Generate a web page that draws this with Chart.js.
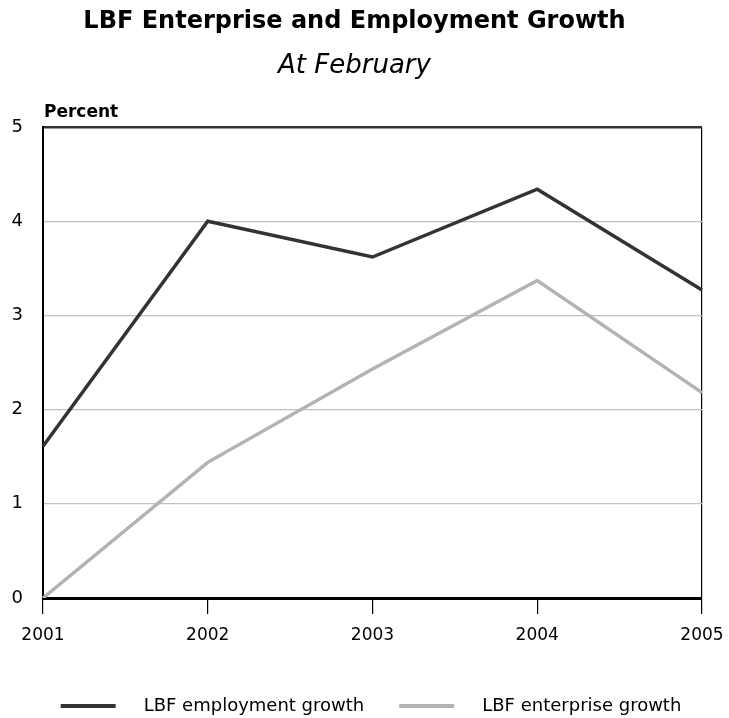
<!DOCTYPE html>
<html>
<head>
<meta charset="utf-8">
<style>
  body { margin: 0; background: #fff; }
</style>
<script src="https://cdn.jsdelivr.net/npm/chart.js@4/dist/chart.umd.min.js"></script>
</head>
<body>
<canvas id="growthChart" width="729" height="718"></canvas>
<script>
const years = ['2001', '2002', '2003', '2004', '2005'];
const employmentGrowth = [1.61, 4.0, 3.62, 4.34, 3.27];
const enterpriseGrowth = [0.0, 1.44, 2.43, 3.37, 2.18];
const yTicks = [0, 1, 2, 3, 4, 5];

const darkLine = '#333333';
const lightLine = '#b3b3b3';

Chart.defaults.font.family = "'DejaVu Sans', sans-serif";
Chart.defaults.color = '#000';

// legend swatch: a short line with some space after it
const makeSwatch = (colour) => {
    const c = document.createElement('canvas');
    c.width = 107;
    c.height = 4;
    const g = c.getContext('2d');
    g.fillStyle = colour;
    g.fillRect(33, 0, 55, 4);
    return c;
};

const percentLabel = {
    id: 'percentLabel',
    afterDraw(chart) {
        const g = chart.ctx;
        g.save();
        g.font = "bold 17px 'DejaVu Sans'";
        g.fillStyle = '#000';
        g.textAlign = 'left';
        g.textBaseline = 'alphabetic';
        g.fillText('Percent', chart.chartArea.left + 1, 116.5);
        g.restore();
    }
};

const ctx = document.getElementById('growthChart').getContext('2d');
let growthChart = new Chart(ctx, {
    type: 'line',
    data: {
        labels: years,
        datasets: [
            {
                label: 'LBF employment growth',
                data: employmentGrowth,
                borderColor: darkLine,
                backgroundColor: darkLine,
                borderWidth: 3.5,
                pointRadius: 0,
                tension: 0,
                pointStyle: makeSwatch(darkLine)
            },
            {
                label: 'LBF enterprise growth',
                data: enterpriseGrowth,
                borderColor: lightLine,
                backgroundColor: lightLine,
                borderWidth: 3.5,
                pointRadius: 0,
                tension: 0,
                pointStyle: makeSwatch(lightLine)
            }
        ]
    },
    options: {
        responsive: false,
        animation: false,
        layout: { padding: { left: 7, right: 27, top: 0, bottom: -7 } },
        plugins: {
            title: {
                display: true,
                text: 'LBF Enterprise and Employment Growth',
                font: { size: 24, weight: 'bold', lineHeight: 1.2 },
                color: '#000',
                padding: { top: 7, bottom: 0 }
            },
            subtitle: {
                display: true,
                text: 'At February',
                font: { size: 26, style: 'italic', lineHeight: 1.2 },
                color: '#000',
                padding: { top: 14.6, bottom: 45.4 }
            },
            legend: {
                position: 'bottom',
                labels: {
                    usePointStyle: true,
                    pointStyleWidth: 107,
                    boxHeight: 18,
                    padding: 2,
                    font: { size: 18 },
                    color: '#000'
                }
            },
            tooltip: { enabled: false }
        },
        scales: {
            x: {
                offset: false,
                afterFit: (scale) => {
                    scale.height = 97;
                    scale.paddingLeft = 0;
                    scale.paddingRight = 0;
                },
                grid: {
                    drawOnChartArea: true,
                    color: (c) => c.index === years.length - 1 ? '#000' : 'rgba(0,0,0,0)',
                    tickColor: '#000',
                    tickLength: 16,
                    lineWidth: 1.2
                },
                border: { color: '#000', width: 3 },
                ticks: { font: { size: 17 }, padding: 11, color: '#000', maxRotation: 0 }
            },
            y: {
                min: 0,
                max: 5,
                afterFit: (scale) => { scale.width = 36; },
                afterBuildTicks: (scale) => { scale.ticks = yTicks.map(v => ({ value: v })); },
                grid: {
                    drawTicks: false,
                    color: (c) => {
                        if (c.tick.value === 5) return darkLine;
                        if (c.tick.value === 0) return 'rgba(0,0,0,0)';
                        return '#c0c0c0';
                    },
                    lineWidth: (c) => c.tick.value === 5 ? 2.5 : 1.2
                },
                border: { color: '#000', width: 2 },
                ticks: { font: { size: 18 }, padding: 20, color: '#000' }
            }
        }
    },
    plugins: [percentLabel]
});
</script>
</body>
</html>
